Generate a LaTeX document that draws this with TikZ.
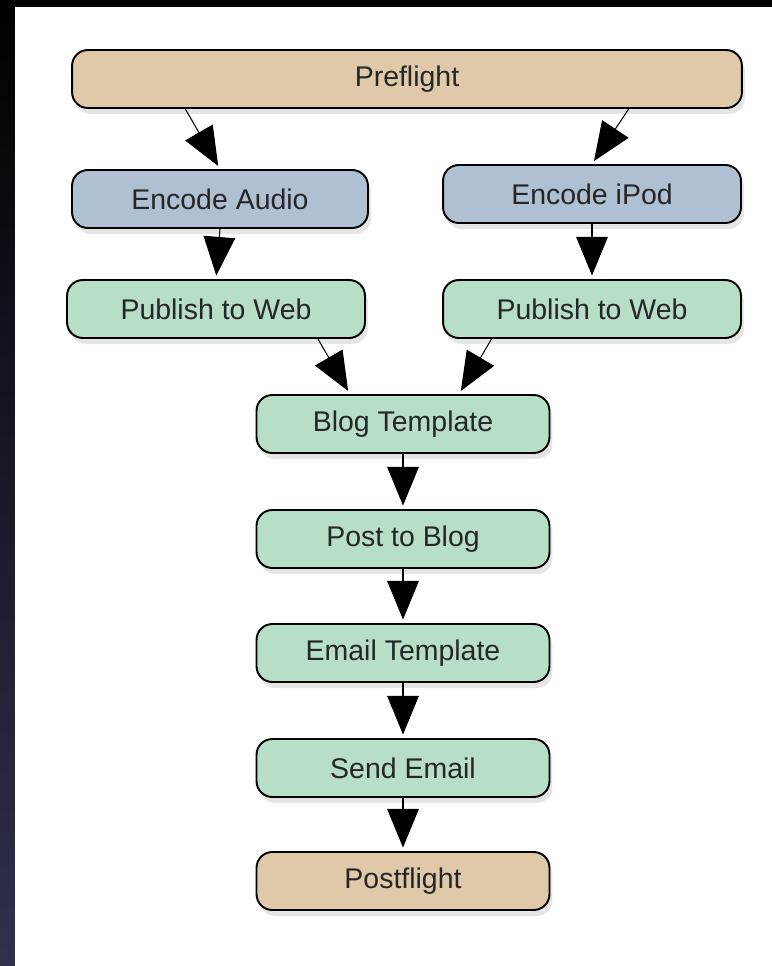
\documentclass[tikz,border=0pt]{standalone}
\usepackage{fontspec}
\setmainfont{Liberation Sans}
\usetikzlibrary{arrows.meta,calc,shadows}

\begin{document}
\begin{tikzpicture}[x=0.02cm,y=-0.02cm,
  step box/.style={draw=black,line width=1.1pt,rounded corners=9pt,
    minimum height=1.16cm,inner sep=0pt,text=black!85,
    font=\fontsize{16.2}{20}\selectfont,
    drop shadow={shadow xshift=0.6mm,shadow yshift=-1.2mm,opacity=0.2}},
  flow/.style={line width=0.6pt,-{Triangle[length=22pt,width=18pt]},shorten >=2pt}]
\definecolor{tan}{HTML}{E0C9A9}
\definecolor{slate}{HTML}{AFC0D3}
\definecolor{mint}{HTML}{B7DEC6}
% background
\useasboundingbox (0,0) rectangle (771,966);
\shade[top color=black,bottom color={rgb,255:red,48;green,50;blue,78}] (-10,-10) rectangle (790,980);
\fill[white] (15,7) rectangle (790,980);
\node [step box,fill=tan,minimum width=13.4cm] (pre) at (407,79) {Preflight};
\node [step box,fill=slate,minimum width=5.92cm] (encA) at (220,199) {Encode Audio};
\node [step box,fill=slate,minimum width=5.96cm] (encI) at (592,194) {Encode iPod};
\node [step box,fill=mint,minimum width=5.96cm] (pubA) at (216,309) {Publish to Web};
\node [step box,fill=mint,minimum width=5.96cm] (pubI) at (592,309) {Publish to Web};
\node [step box,fill=mint,minimum width=5.86cm] (blog) at (403,424) {Blog Template};
\node [step box,fill=mint,minimum width=5.86cm] (post) at (403,539) {Post to Blog};
\node [step box,fill=mint,minimum width=5.86cm] (email) at (403,653) {Email Template};
\node [step box,fill=mint,minimum width=5.86cm] (send) at (403,768) {Send Email};
\node [step box,fill=tan,minimum width=5.86cm] (postf) at (403,881) {Postflight};
\draw[flow] ($(pre.south west)!.17!(pre.south east)$) -- (encA.north);
\draw[flow] ($(pre.south west)!.83!(pre.south east)$) -- (encI.north);
\draw[flow] (encA.south) -- (pubA.north);
\draw[flow] (encI.south) -- (pubI.north);
\draw[flow] ($(pubA.south west)!.84!(pubA.south east)$) -- ($(blog.north west)!.32!(blog.north east)$);
\draw[flow] ($(pubI.south west)!.165!(pubI.south east)$) -- ($(blog.north west)!.69!(blog.north east)$);
\draw[flow] (blog) -- (post);
\draw[flow] (post) -- (email);
\draw[flow] (email) -- (send);
\draw[flow] (send) -- (postf);
\end{tikzpicture}
\end{document}
